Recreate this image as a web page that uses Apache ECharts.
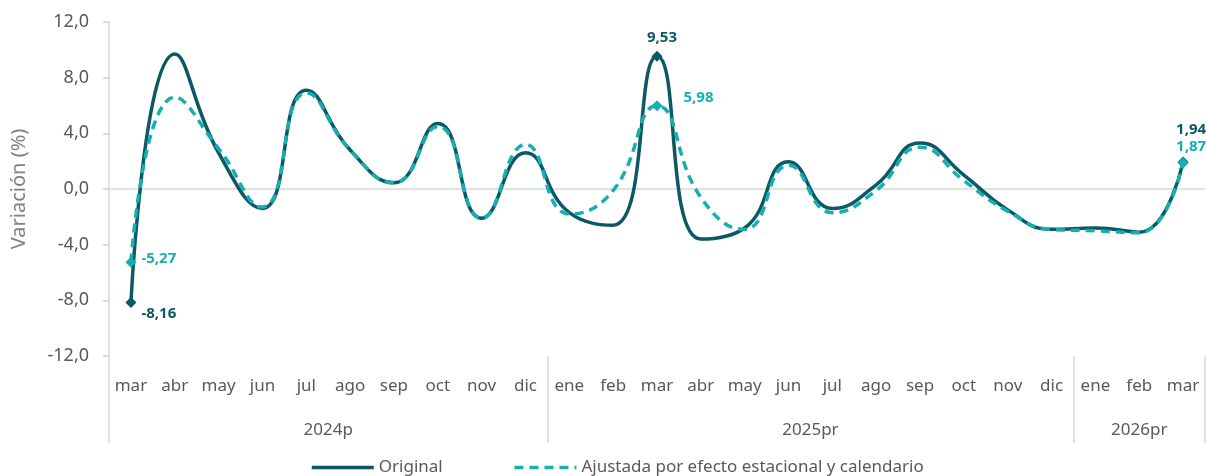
<!DOCTYPE html>
<html>
<head>
<meta charset="utf-8">
<script src="https://cdn.jsdelivr.net/npm/echarts@6/dist/echarts.min.js"></script>
<style>
    html, body { margin: 0; padding: 0; background: #fff; }
    #chart { width: 1206px; height: 476px; }
</style>
</head>
<body>
<div id="chart"></div>
<script>
// monthly variation, mar 2024 - mar 2026
var months = ['mar', 'abr', 'may', 'jun', 'jul', 'ago', 'sep', 'oct', 'nov', 'dic',
    'ene', 'feb', 'mar', 'abr', 'may', 'jun', 'jul', 'ago', 'sep', 'oct', 'nov', 'dic',
    'ene', 'feb', 'mar'];
var years = ['2024p', '2025pr', '2026pr'];
var yearSizes = [10, 12, 3];
var original = [-8.16, 9.7, 2.6, -1.4, 7.1, 2.8, 0.45, 4.7, -2.1, 2.6,
    -1.7, -2.6, 9.53, -3.6, -2.8, 1.95, -1.4, 0.3, 3.3, 1.0, -1.5, -2.9,
    -2.8, -3.1, 1.94];
var adjusted = [-5.27, 6.6, 2.9, -1.3, 6.9, 2.8, 0.45, 4.5, -2.1, 3.2,
    -1.8, -0.1, 5.98, -0.6, -2.9, 1.7, -1.7, -0.1, 3.0, 0.6, -1.6, -2.9,
    -3.0, -3.15, 1.87];
var labelled = [0, 12, 24];

var cOrig = '#0b5964';
var cAdj = '#16aeb1';
var font = "'Noto Sans', sans-serif";

function fmt(v, d) { return v.toFixed(d).replace('.', ','); }

// year groups -> separator ticks and centred labels on a 0..N value axis
var bounds = [0], centers = [];
yearSizes.reduce(function (acc, s) {
    centers.push(acc + s / 2);
    bounds.push(acc + s);
    return acc + s;
}, 0);

// label placement per labelled point
var origLabels = {
    0: { position: 'right', offset: [0, 11] },
    12: { position: 'top', offset: [5, -1] },
    24: { position: 'top', offset: [8, -14] }
};
var adjLabels = {
    0: { position: 'right', offset: [0, -4] },
    12: { position: 'right', offset: [16, -8] },
    24: { position: 'top', offset: [8, 2] }
};

function buildData(vals, color, labels) {
    return vals.map(function (v, i) {
        if (labelled.indexOf(i) < 0) return { value: v, symbol: 'none' };
        var l = labels[i];
        return {
            value: v,
            symbol: 'diamond',
            symbolSize: 11,
            label: {
                show: true,
                position: l.position,
                offset: l.offset,
                color: color,
                fontWeight: 'bold',
                fontSize: 15,
                fontFamily: font,
                formatter: function (p) { return fmt(p.value, 2); }
            }
        };
    });
}

var chart = echarts.init(document.getElementById('chart'));
chart.setOption({
    animation: false,
    textStyle: { fontFamily: font },
    grid: { left: 109, right: 1, top: 22, bottom: 120 },
    legend: {
        left: 305,
        top: 454,
        itemWidth: 62,
        itemHeight: 14,
        itemGap: 70,
        itemStyle: { opacity: 0 },
        lineStyle: { width: 3.5 },
        textStyle: { color: '#595959', fontSize: 17, fontFamily: font },
        data: ['Original', 'Ajustada por efecto estacional y calendario']
    },
    xAxis: [{
        type: 'category',
        data: months,
        position: 'bottom',
        axisLine: { show: false },
        axisTick: { show: false },
        axisLabel: { color: '#595959', fontSize: 17, margin: 22, interval: 0 }
    }, {
        type: 'value',
        min: 0,
        max: months.length,
        position: 'bottom',
        axisLine: { show: false },
        splitLine: { show: false },
        axisTick: {
            show: true,
            customValues: bounds,
            length: 87,
            lineStyle: { color: '#d9d9d9', width: 1.5 }
        },
        axisLabel: {
            customValues: centers,
            margin: 66,
            color: '#595959',
            fontSize: 17,
            formatter: function (v) { return years[centers.indexOf(v)]; }
        }
    }],
    yAxis: {
        type: 'value',
        min: -12,
        max: 12,
        interval: 4,
        name: 'Variación (%)',
        nameLocation: 'middle',
        nameGap: 80,
        nameTextStyle: { color: '#808080', fontSize: 20 },
        axisLine: { show: true, lineStyle: { color: '#d9d9d9', width: 1.5 } },
        axisTick: { show: true, inside: false, length: 6, lineStyle: { color: '#d0d0d0', width: 1.5 } },
        splitLine: { show: false },
        axisLabel: {
            color: '#595959',
            fontSize: 18,
            margin: 20,
            formatter: function (v) { return fmt(v, 1); }
        }
    },
    series: [{
        name: 'Original',
        type: 'line',
        smooth: 0.5,
        symbol: 'none',
        showAllSymbol: true,
        itemStyle: { color: cOrig },
        lineStyle: { color: cOrig, width: 3.5 },
        data: buildData(original, cOrig, origLabels),
        markLine: {
            silent: true,
            symbol: 'none',
            label: { show: false },
            lineStyle: { color: '#d9d9d9', width: 1.5, type: 'solid' },
            data: [{ yAxis: 0 }],
            z: 1
        },
        z: 3
    }, {
        name: 'Ajustada por efecto estacional y calendario',
        type: 'line',
        smooth: 0.5,
        symbol: 'none',
        showAllSymbol: true,
        itemStyle: { color: cAdj },
        lineStyle: { color: cAdj, width: 3.5, type: [9, 6] },
        data: buildData(adjusted, cAdj, adjLabels),
        z: 4
    }]
});
</script>
</body>
</html>
